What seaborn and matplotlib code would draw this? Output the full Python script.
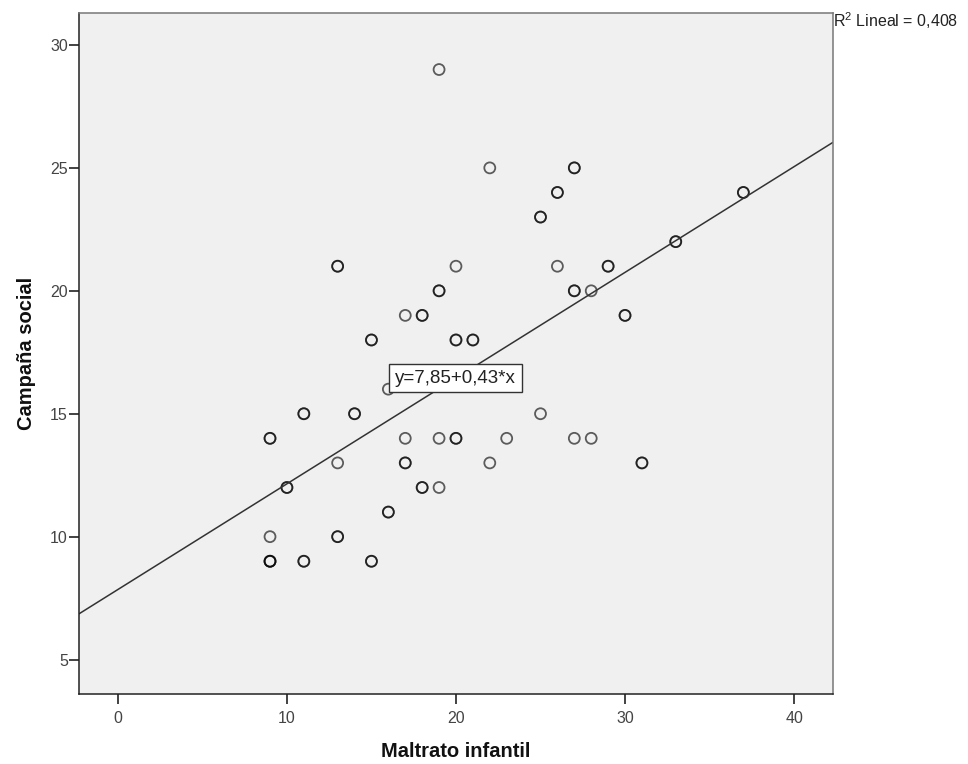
import numpy as np
import pandas as pd
import matplotlib
matplotlib.use("Agg")
import matplotlib.pyplot as plt
import seaborn as sns

# Maltrato infantil (x) vs Campaña social (y); repeated pairs drawn on top of each other
maltrato = [19,
            22, 27, 27,
            26, 26, 37, 37,
            25, 25,
            33, 33,
            13, 13, 20, 26, 29, 29,
            19, 19, 27, 27, 28,
            17, 18, 18, 30, 30,
            15, 15, 20, 20, 21, 21,
            16,
            11, 11, 14, 14, 25,
            9, 9, 17, 19, 20, 20, 23, 27, 28,
            13, 17, 17, 22, 31, 31,
            10, 10, 18, 18, 19,
            16, 16,
            9, 13, 13,
            9, 9, 9, 11, 11, 15, 15]
campana = [29,
           25, 25, 25,
           24, 24, 24, 24,
           23, 23,
           22, 22,
           21, 21, 21, 21, 21, 21,
           20, 20, 20, 20, 20,
           19, 19, 19, 19, 19,
           18, 18, 18, 18, 18, 18,
           16,
           15, 15, 15, 15, 15,
           14, 14, 14, 14, 14, 14, 14, 14, 14,
           13, 13, 13, 13, 13, 13,
           12, 12, 12, 12, 12,
           11, 11,
           10, 10, 10,
           9, 9, 9, 9, 9, 9, 9]

intercept = 7.85
slope = 0.43
r2_text = "R$^2$ Lineal = 0,408"
eq_text = "y=7,85+0,43*x"

df = pd.DataFrame({"Maltrato infantil": maltrato, "Campaña social": campana})

sns.set_style("white")
plt.rcParams["font.family"] = ["Liberation Sans", "DejaVu Sans"]
plt.rcParams["mathtext.fontset"] = "custom"
plt.rcParams["mathtext.rm"] = "Liberation Sans"

fig = plt.figure(figsize=(9.68, 7.64), dpi=100)
ax = fig.add_axes([0.0816, 0.0916, 0.7789, 0.8914])
ax.set_facecolor("#f0f0f0")

sns.scatterplot(data=df, x="Maltrato infantil", y="Campaña social", ax=ax,
                marker="o", s=62, facecolors="none", edgecolor="black",
                linewidth=1.3, alpha=0.62)

ax.axline((0, intercept), slope=slope, color="#333333", linewidth=1.1, zorder=1)

ax.set_xlim(-2.3, 42.3)
ax.set_ylim(3.6, 31.3)
ax.set_xticks([0, 10, 20, 30, 40])
ax.set_yticks([5, 10, 15, 20, 25, 30])
ax.tick_params(direction="out", length=7, width=1.2, color="#222222",
               labelsize=11.5, labelcolor="#444444", bottom=True, left=True)
ax.tick_params(axis="y", pad=1)
ax.tick_params(axis="x", pad=5)

for sp in ax.spines.values():
    sp.set_color("#222222")
    sp.set_linewidth(1.1)
ax.spines["right"].set_color("#777777")
ax.spines["top"].set_color("#777777")

label_font = dict(fontsize=14.5, fontweight="bold", color="#111111")
ax.set_xlabel("Maltrato infantil", labelpad=12, **label_font)
ax.set_ylabel("Campaña social", labelpad=10, **label_font)

ax.text(16.4, 16.45, eq_text, fontsize=13.5, ha="left", va="center", color="#222222",
        bbox=dict(boxstyle="square,pad=0.3", facecolor="white", edgecolor="#333333",
                  linewidth=1.0), zorder=5)

fig.text(0.861, 0.973, r2_text, fontsize=11.5, ha="left", va="center", color="#222222")

fig.savefig("out.png", dpi=100, facecolor="white")
